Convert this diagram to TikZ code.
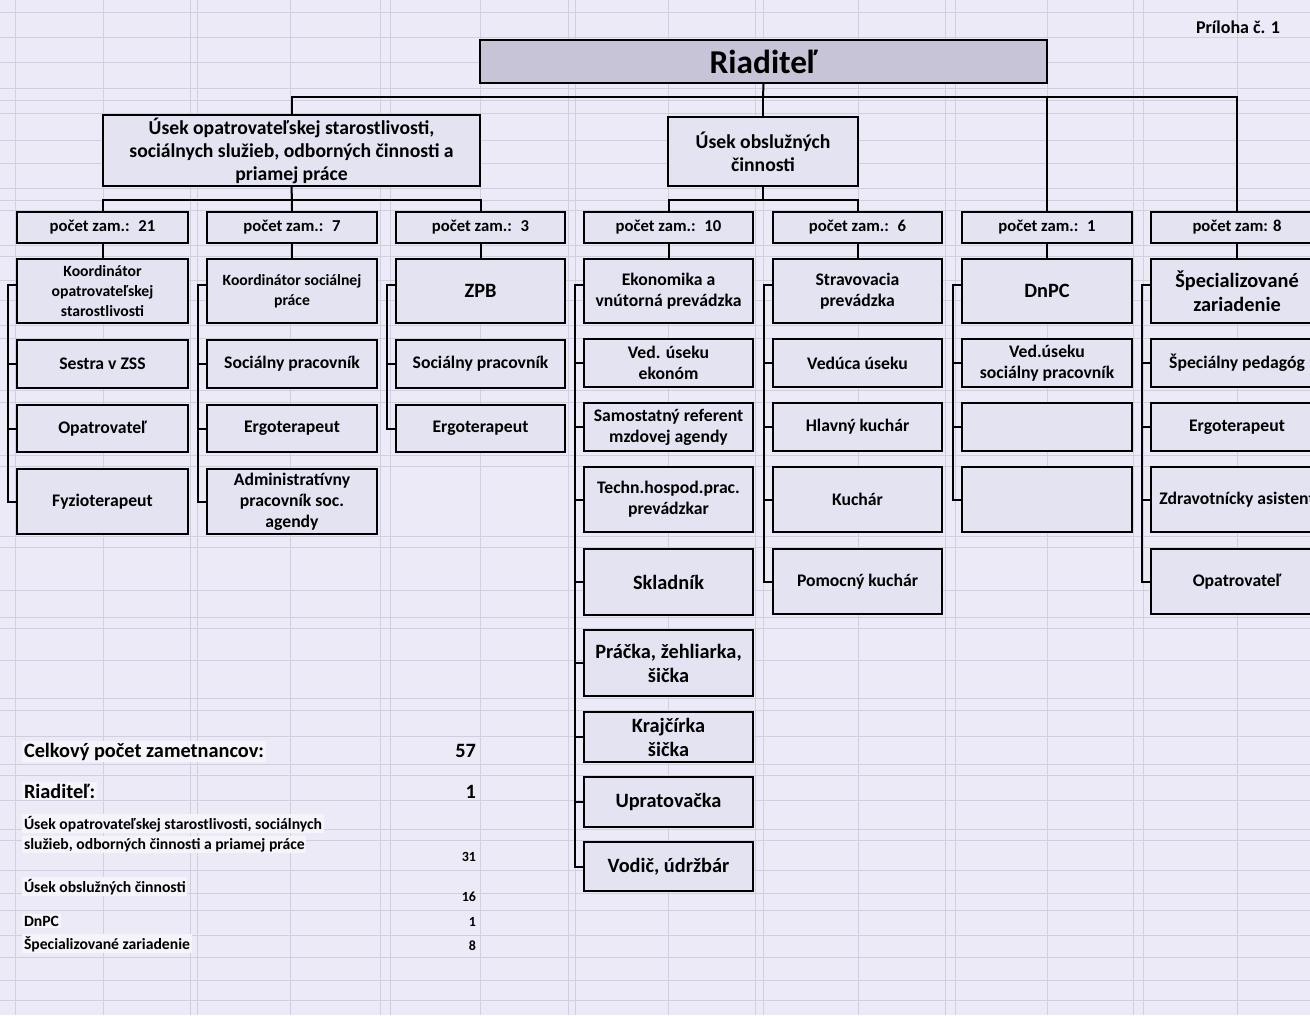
\documentclass[tikz,border=0pt]{standalone}
\usepackage{fontspec}
\setmainfont{Carlito}
\definecolor{bgc}{RGB}{235,234,246}
\definecolor{boxc}{RGB}{228,227,242}
\definecolor{topc}{RGB}{198,196,214}
\definecolor{gridc}{RGB}{208,207,224}
\definecolor{hlc}{RGB}{244,244,250}
\newcommand\zzbox{\fontsize{10.6pt}{12.6pt}\selectfont\bfseries}
\newcommand\zzko{\fontsize{9.4pt}{12pt}\selectfont\bfseries}
\newcommand\zzbig{\fontsize{12.2pt}{14.4pt}\selectfont\bfseries}
\newcommand\zzpo{\fontsize{10pt}{12pt}\selectfont\bfseries}
\newcommand\zzse{\fontsize{11.8pt}{13.8pt}\selectfont\bfseries}
\newcommand\zzri{\fontsize{20pt}{24pt}\selectfont\bfseries}
\newcommand\zzsum{\fontsize{12.2pt}{14pt}\selectfont\bfseries}
\newcommand\zzsm{\fontsize{9.4pt}{12pt}\selectfont\bfseries}
\newcommand\zznum{\fontsize{8.4pt}{10pt}\selectfont\bfseries}
\newcommand\mybox[7]{\node[#1, minimum width={(#4-#2)*0.6pt}, minimum height={(#5-#3)*0.6pt}] (#6) at ({(#2+#4)/2},{(#3+#5)/2}) {#7};}
\tikzset{
  bx/.style={draw=black, line width=1.25pt, fill=boxc, align=center, inner sep=0pt, font=\zzbox},
  conn/.style={draw=black, line width=1.2pt},
  grid line/.style={draw=gridc, line width=0.5pt},
  lab/.style={anchor=base west, inner sep=1pt, fill=hlc},
  num/.style={anchor=base east, inner sep=1pt},
}
\begin{document}
\begin{tikzpicture}[x=0.6pt,y=-0.6pt]
\useasboundingbox (0,0) rectangle (1310,1015);
\fill[bgc] (0,0) rectangle (1310,1015);
% spreadsheet grid
\foreach \gx in {15,103,190,197,290,380,390,480,568,575,668,755,763,858,945,955,1047,1133,1143,1237}
  \draw[grid line] (\gx,0) -- (\gx,1015);
\foreach \gy in {12,37,62,88,100,113,140,163,188,200,210,245,256,280,300,325,338,390,402,455,466,536,547,590,617,628,660,698,710,736,764,775,800,829,840,870,893,910,935,957,980,1000}
  \draw[grid line] (0,\gy) -- (1310,\gy);

% title
\node[anchor=base east, inner sep=1pt, font=\fontsize{10.8pt}{12pt}\selectfont\bfseries] (pr) at (1282,34) {Príloha č. 1};

% top
\mybox{bx, fill=topc, font=\zzri}{480}{40}{1047}{83}{rd}{Riaditeľ}
\mybox{bx, font=\zzse}{103}{115}{480}{186}{s1}{Úsek opatrovateľskej starostlivosti,\\ sociálnych služieb, odborných činnosti a\\ priamej práce}
\mybox{bx, font=\zzse}{668}{117}{858}{186}{s2}{Úsek obslužných\\ činnosti}

% pocet boxes
\mybox{bx, font=\zzpo}{17}{212}{188}{243}{pc1}{počet zam.: \ 21}
\mybox{bx, font=\zzpo}{207}{212}{377}{243}{pc2}{počet zam.: \ 7}
\mybox{bx, font=\zzpo}{396}{212}{565}{243}{pc3}{počet zam.: \ 3}
\mybox{bx, font=\zzpo}{584}{212}{753}{243}{pc4}{počet zam.: \ 10}
\mybox{bx, font=\zzpo}{773}{212}{942}{243}{pc5}{počet zam.: \ 6}
\mybox{bx, font=\zzpo}{962}{212}{1132}{243}{pc6}{počet zam.: \ 1}
\mybox{bx, font=\zzpo}{1151}{212}{1323}{243}{pc7}{počet zam: 8}

% column 1
\mybox{bx, font=\zzko}{17}{259}{188}{323}{a1}{Koordinátor\\ opatrovateľskej\\ starostlivosti}
\mybox{bx}{17}{340}{188}{388}{a2}{Sestra v ZSS}
\mybox{bx}{17}{405}{188}{452}{a3}{Opatrovateľ}
\mybox{bx}{17}{469}{188}{534}{a4}{Fyzioterapeut}
% column 2
\mybox{bx, font=\zzko}{207}{259}{377}{323}{b1}{Koordinátor sociálnej\\ práce}
\mybox{bx}{207}{340}{377}{388}{b2}{Sociálny pracovník}
\mybox{bx}{207}{405}{377}{452}{b3}{Ergoterapeut}
\mybox{bx}{207}{469}{377}{534}{b4}{Administratívny\\ pracovník soc.\\ agendy}
% column 3
\mybox{bx, font=\zzbig}{396}{259}{565}{323}{c1}{ZPB}
\mybox{bx}{396}{340}{565}{388}{c2}{Sociálny pracovník}
\mybox{bx}{396}{405}{565}{452}{c3}{Ergoterapeut}
% column 4
\mybox{bx}{584}{259}{753}{323}{d1}{Ekonomika a\\ vnútorná prevádzka}
\mybox{bx}{584}{339}{753}{387}{d2}{Ved. úseku\\ ekonóm}
\mybox{bx}{584}{403}{753}{451}{d3}{Samostatný referent\\ mzdovej agendy}
\mybox{bx}{584}{467}{753}{532}{d4}{Techn.hospod.prac.\\ prevádzkar}
\mybox{bx, font=\zzbig}{584}{549}{753}{615}{d5}{Skladník}
\mybox{bx, font=\zzbig}{584}{630}{753}{696}{d6}{Práčka, žehliarka,\\ šička}
\mybox{bx, font=\zzbig}{584}{712}{753}{762}{d7}{Krajčírka\\ šička}
\mybox{bx, font=\zzbig}{584}{777}{753}{827}{d8}{Upratovačka}
\mybox{bx, font=\zzbig}{584}{842}{753}{891}{d9}{Vodič, údržbár}
% column 5
\mybox{bx}{773}{259}{942}{323}{e1}{Stravovacia\\ prevádzka}
\mybox{bx}{773}{339}{942}{387}{e2}{Vedúca úseku}
\mybox{bx}{773}{403}{942}{451}{e3}{Hlavný kuchár}
\mybox{bx}{773}{467}{942}{532}{e4}{Kuchár}
\mybox{bx}{773}{549}{942}{614}{e5}{Pomocný kuchár}
% column 6
\mybox{bx, font=\zzbig}{962}{259}{1132}{323}{f1}{DnPC}
\mybox{bx}{962}{339}{1132}{387}{f2}{Ved.úseku\\ sociálny pracovník}
\mybox{bx}{962}{403}{1132}{451}{f3}{}
\mybox{bx}{962}{467}{1132}{532}{f4}{}
% column 7
\mybox{bx, font=\zzbig}{1151}{259}{1323}{323}{g1}{Špecializované\\ zariadenie}
\mybox{bx}{1151}{339}{1323}{387}{g2}{Špeciálny pedagóg}
\mybox{bx}{1151}{403}{1323}{451}{g3}{Ergoterapeut}
\mybox{bx}{1151}{467}{1323}{532}{g4}{Zdravotnícky asistent}
\mybox{bx}{1151}{549}{1323}{614}{g5}{Opatrovateľ}

% connectors from director
\coordinate (bus0) at (763,97);
\draw[conn] (rd.south) -- (bus0);
\draw[conn] (s1.north) -- (s1.north |- bus0) -- (pc7.north |- bus0) -- (pc7.north);
\draw[conn] (s2.north) -- (bus0);
\draw[conn] (pc6.north) -- (pc6.north |- bus0);
% section 1 bus
\coordinate (bus1) at (292,200);
\draw[conn] (s1.south) -- (bus1);
\draw[conn] (pc1.north) -- (pc1.north |- bus1) -- (pc3.north |- bus1) -- (pc3.north);
\draw[conn] (pc2.north) -- (pc2.north |- bus1);
% section 2 bus
\coordinate (bus2) at (763,200);
\draw[conn] (s2.south) -- (bus2);
\draw[conn] (pc4.north) -- (pc4.north |- bus2) -- (pc5.north |- bus2) -- (pc5.north);
% pocet to first box
\draw[conn] (pc1.south) -- (a1.north);
\draw[conn] (pc2.south) -- (b1.north);
\draw[conn] (pc3.south) -- (c1.north);
\draw[conn] (pc4.south) -- (d1.north);
\draw[conn] (pc5.south) -- (e1.north);
\draw[conn] (pc6.south) -- (f1.north);
\draw[conn] (pc7.south) -- (g1.north);

% brackets
\draw[conn] ([yshift=3.6pt]a1.west) -- ++(-8,0) |- (a4.west);
\foreach \n in {a2,a3} \draw[conn] (\n.west) -- ++(-8,0);
\draw[conn] ([yshift=3.6pt]b1.west) -- ++(-8,0) |- (b4.west);
\foreach \n in {b2,b3} \draw[conn] (\n.west) -- ++(-8,0);
\draw[conn] ([yshift=3.6pt]c1.west) -- ++(-8,0) |- (c3.west);
\draw[conn] (c2.west) -- ++(-8,0);
\draw[conn] ([yshift=3.6pt]d1.west) -- ++(-8,0) |- (d9.west);
\foreach \n in {d2,d3,d4,d5,d6,d7,d8} \draw[conn] (\n.west) -- ++(-8,0);
\draw[conn] ([yshift=3.6pt]e1.west) -- ++(-8,0) |- (e5.west);
\foreach \n in {e2,e3,e4} \draw[conn] (\n.west) -- ++(-8,0);
\draw[conn] ([yshift=3.6pt]f1.west) -- ++(-8,0) |- (f4.west);
\foreach \n in {f2,f3} \draw[conn] (\n.west) -- ++(-8,0);
\draw[conn] ([yshift=3.6pt]g1.west) -- ++(-8,0) |- (g5.west);
\foreach \n in {g2,g3,g4} \draw[conn] (\n.west) -- ++(-8,0);

% summary
\node[lab, font=\zzsum] (t1) at (22,757) {Celkový počet zametnancov:};
\node[num, font=\zzsum] (n1) at (478,757) {57};
\node[lab, font=\zzsum] (t2) at (22,798) {Riaditeľ:};
\node[num, font=\zzsum] (n2) at (478,798) {1};
\node[lab, font=\zzsm] (t3) at (22,829) {Úsek opatrovateľskej starostlivosti, sociálnych};
\node[lab, font=\zzsm] (t3b) at (22,849) {služieb, odborných činnosti a priamej práce};
\node[num, font=\zznum] (n3) at (478,861) {31};
\node[lab, font=\zzsm] (t4) at (22,892) {Úsek obslužných činnosti};
\node[num, font=\zznum] (n4) at (478,901) {16};
\node[lab, font=\zzsm] (t5) at (22,926) {DnPC};
\node[num, font=\zznum] (n5) at (478,926) {1};
\node[lab, font=\zzsm] (t6) at (22,949) {Špecializované zariadenie};
\node[num, font=\zznum] (n6) at (478,950) {8};
\end{tikzpicture}
\end{document}
